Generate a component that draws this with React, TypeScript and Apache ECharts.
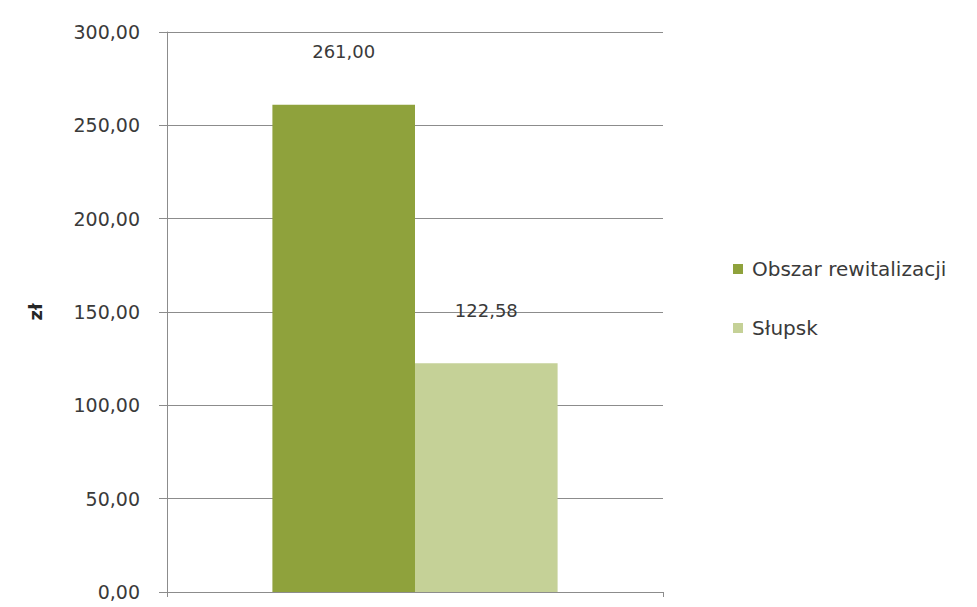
import React, { useEffect, useRef } from "react";
import * as echarts from "echarts";

const categories = [""];
const seriesNames = ["Obszar rewitalizacji", "Słupsk"];
const obszarValues = [261.0];
const slupskValues = [122.58];
const yTicks = { min: 0, max: 300, interval: 50 };

const fmt = (v: number) => v.toFixed(2).replace(".", ",");

export default function App() {
  const ref = useRef<HTMLDivElement>(null);
  useEffect(() => {
    const chart = echarts.init(ref.current!, null, { renderer: "svg" });
    const font = "'DejaVu Sans', 'Noto Sans', sans-serif";
    const labelStyle = {
      show: true,
      position: "top",
      distance: 44,
      fontSize: 18,
      color: "#3a3a3a",
      fontFamily: font,
      formatter: (p: any) => fmt(p.value),
    };
    chart.setOption({
      animation: false,
      backgroundColor: "#ffffff",
      textStyle: { fontFamily: font },
      grid: { left: 167, top: 32, right: 314, bottom: 15, containLabel: false },
      legend: {
        orient: "vertical",
        left: 728,
        top: 254,
        itemWidth: 10,
        itemHeight: 10,
        itemGap: 39,
        icon: "rect",
        textStyle: { fontSize: 20, color: "#3a3a3a", fontFamily: font, padding: [0, 0, 0, 4] },
        data: seriesNames,
      },
      xAxis: {
        type: "category",
        data: categories,
        axisLine: { show: true, lineStyle: { color: "#8c8c8c", width: 1 } },
        axisTick: { show: true, length: 5, lineStyle: { color: "#8c8c8c" } },
        axisLabel: { show: false },
        splitLine: { show: false },
      },
      yAxis: {
        type: "value",
        min: yTicks.min,
        max: yTicks.max,
        interval: yTicks.interval,
        name: "zł",
        nameLocation: "middle",
        nameRotate: 90,
        nameGap: 123,
        nameTextStyle: { fontSize: 18, fontWeight: "bold", color: "#262626", fontFamily: font },
        axisLine: { show: true, lineStyle: { color: "#8c8c8c", width: 1 } },
        axisTick: { show: true, length: 8, lineStyle: { color: "#8c8c8c" } },
        axisLabel: {
          fontSize: 19,
          color: "#3a3a3a",
          margin: 27,
          formatter: (v: number) => fmt(v),
          fontFamily: font,
        },
        splitLine: { show: true, lineStyle: { color: "#8c8c8c", width: 1 } },
      },
      series: [
        {
          name: seriesNames[0],
          type: "bar",
          data: obszarValues,
          barGap: "0%",
          barCategoryGap: "42.5%",
          itemStyle: { color: "#8fa23c" },
          label: labelStyle,
        },
        {
          name: seriesNames[1],
          type: "bar",
          data: slupskValues,
          barGap: "0%",
          barCategoryGap: "42.5%",
          itemStyle: { color: "#c5d197" },
          label: labelStyle,
        },
      ],
    });
    return () => chart.dispose();
  }, []);
  return (
    <div
      ref={ref}
      style={{ position: "fixed", left: 0, top: 0, width: 977, height: 607, background: "#fff" }}
    />
  );
}
